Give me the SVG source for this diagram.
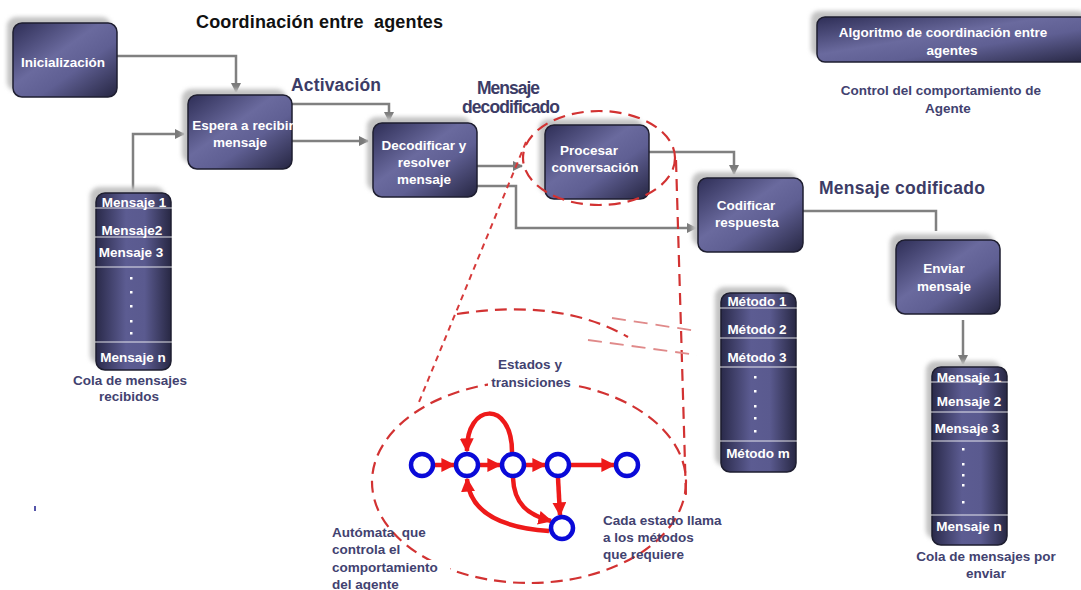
<svg xmlns="http://www.w3.org/2000/svg" width="1081" height="590" viewBox="0 0 1081 590">
<defs>
  <linearGradient id="boxFill" x1="0" y1="0" x2="1" y2="1">
    <stop offset="0" stop-color="#2e2e56"/>
    <stop offset="0.42" stop-color="#6a6a9e"/>
    <stop offset="0.62" stop-color="#5f5f93"/>
    <stop offset="1" stop-color="#262642"/>
  </linearGradient>
  <linearGradient id="listFill" x1="0" y1="0" x2="1" y2="0">
    <stop offset="0" stop-color="#2a2a4a"/>
    <stop offset="0.4" stop-color="#5c5c92"/>
    <stop offset="0.65" stop-color="#5a5a8f"/>
    <stop offset="1" stop-color="#282844"/>
  </linearGradient>
  <filter id="soft" x="-20%" y="-20%" width="140%" height="140%">
    <feGaussianBlur stdDeviation="2"/>
  </filter>
  <marker id="grayArrow" viewBox="0 0 10 10" refX="9" refY="5" markerWidth="11" markerHeight="10" markerUnits="userSpaceOnUse" orient="auto">
    <path d="M0,0 L10,5 L0,10 z" fill="#7a7a7a"/>
  </marker>
  <marker id="redArrow" viewBox="0 0 10 10" refX="9" refY="5" markerWidth="14" markerHeight="14" markerUnits="userSpaceOnUse" orient="auto">
    <path d="M0,0 L10,5 L0,10 z" fill="#ee1a1a"/>
  </marker>
</defs>
<style>
  .shadow { fill: #c2c2c2; filter: url(#soft); }
  .box { fill: url(#boxFill); stroke: #1e1e30; stroke-width: 1.5; }
  .list { fill: url(#listFill); stroke: #1e1e30; stroke-width: 1.5; }
  .sep { stroke: #ffffff; stroke-width: 1; opacity: 0.85; }
  .bt { font-family: "Liberation Sans", Arial, sans-serif; font-weight: bold; font-size: 13.5px; fill: #ffffff; text-anchor: middle; }
  .lt { font-family: "Liberation Sans", Arial, sans-serif; font-weight: bold; font-size: 13.5px; fill: #ffffff; text-anchor: middle; }
  .title { font-family: "Liberation Sans", Arial, sans-serif; font-weight: bold; font-size: 18px; fill: #111111; white-space: pre; }
  .big { font-family: "Liberation Sans", Arial, sans-serif; font-weight: bold; font-size: 17.5px; fill: #3c3c66; }
  .lbl { font-family: "Liberation Sans", Arial, sans-serif; font-weight: bold; font-size: 13.5px; fill: #424270; white-space: pre; }
  .conn { fill: none; stroke: #808080; stroke-width: 2.5; }
  .leader { fill: none; stroke: #d63a3a; stroke-width: 2; stroke-dasharray: 6 5; }
  .zone { fill: none; stroke: #d23232; stroke-width: 2.2; stroke-dasharray: 12 7; }
  .faint { fill: none; stroke: #e08a8a; stroke-width: 1.8; stroke-dasharray: 14 8; }
  .state { fill: #ffffff; stroke: #0a0ad8; stroke-width: 4.5; }
  .tr { fill: none; stroke: #ee1a1a; stroke-width: 4.5; marker-end: url(#redArrow); }
</style>

<rect width="1081" height="590" fill="#ffffff"/>

<!-- headings and free labels -->
<text class="title" x="196" y="28" textLength="247">Coordinación entre  agentes</text>
<text class="big" x="291" y="91" textLength="90">Activación</text>
<text class="big" x="477" y="94" font-size="16.5" fill="#4a4a68" textLength="63">Mensaje</text>
<text class="big" x="462" y="113" font-size="16.5" fill="#4a4a68" textLength="98">decodificado</text>
<text class="big" x="819" y="194" textLength="166">Mensaje codificado</text>
<text class="lbl" x="941" y="95" text-anchor="middle" fill="#4a4a68">Control del comportamiento de</text>
<text class="lbl" x="948" y="113" text-anchor="middle" fill="#4a4a68">Agente</text>
<rect x="34" y="506" width="2" height="5" fill="#5555aa"/>

<!-- connectors -->
<g id="connectors">
  <path class="conn" d="M117,56 H236 V92" marker-end="url(#grayArrow)"/>
  <path class="conn" d="M133,193 V134 H184" marker-end="url(#grayArrow)"/>
  <path class="conn" d="M292,104 H389 V121" marker-end="url(#grayArrow)"/>
  <path class="conn" d="M292,141 H368" marker-end="url(#grayArrow)"/>
  <path class="conn" d="M477,166 H522" marker-end="url(#grayArrow)"/>
  <path class="conn" d="M477,186 H516 V228 H696" marker-end="url(#grayArrow)"/>
  <path class="conn" d="M649,152 H734 V174" marker-end="url(#grayArrow)"/>
  <path class="conn" d="M803,211 H936 V231"/>
  <path class="conn" d="M963,320 V364" marker-end="url(#grayArrow)"/>
</g>

<!-- nodes -->
<g id="n-inicializacion">
  <rect class="shadow" x="7" y="17" width="104" height="74" rx="9"/>
  <rect class="box" x="13" y="23" width="104" height="74" rx="9"/>
  <text class="bt" x="63" y="67">Inicialización</text>
</g>
<g id="n-espera">
  <rect class="shadow" x="182" y="89" width="104" height="74" rx="9"/>
  <rect class="box" x="188" y="95" width="104" height="74" rx="9"/>
  <text class="bt" x="243" y="130">Espera a recibir</text>
  <text class="bt" x="240" y="147">mensaje</text>
</g>
<g id="n-decodificar">
  <rect class="shadow" x="367" y="117" width="104" height="74" rx="9"/>
  <rect class="box" x="373" y="123" width="104" height="74" rx="9"/>
  <text class="bt" x="424" y="150">Decodificar y</text>
  <text class="bt" x="424" y="167">resolver</text>
  <text class="bt" x="424" y="184">mensaje</text>
</g>
<g id="n-procesar">
  <rect class="shadow" x="539" y="119" width="104" height="74" rx="9"/>
  <rect class="box" x="545" y="125" width="104" height="74" rx="9"/>
  <text class="bt" x="589" y="155">Procesar</text>
  <text class="bt" x="595" y="172">conversación</text>
</g>
<g id="n-codificar">
  <rect class="shadow" x="692" y="172" width="105" height="74" rx="9"/>
  <rect class="box" x="698" y="178" width="105" height="74" rx="9"/>
  <text class="bt" x="746" y="210">Codificar</text>
  <text class="bt" x="747" y="227">respuesta</text>
</g>
<g id="n-enviar">
  <rect class="shadow" x="890" y="234" width="104" height="74" rx="9"/>
  <rect class="box" x="896" y="240" width="104" height="74" rx="9"/>
  <text class="bt" x="944" y="273">Enviar</text>
  <text class="bt" x="944" y="291">mensaje</text>
</g>
<g id="n-algoritmo">
  <rect class="shadow" x="811" y="11" width="275" height="45" rx="8"/>
  <rect class="box" x="817" y="17" width="275" height="45" rx="8"/>
  <text class="bt" x="943" y="37" font-size="14">Algoritmo de coordinación entre</text>
  <text class="bt" x="952" y="55" font-size="14">agentes</text>
</g>

<!-- incoming message queue -->
<g id="n-cola-recibidos">
  <rect class="shadow" x="90" y="187" width="75" height="177" rx="9"/>
  <rect class="list" x="96" y="193" width="75" height="177" rx="9"/>
  <line class="sep" x1="95" y1="208" x2="172" y2="208"/>
  <line class="sep" x1="95" y1="237" x2="172" y2="237"/>
  <line class="sep" x1="95" y1="267" x2="172" y2="267"/>
  <line class="sep" x1="95" y1="342" x2="172" y2="342"/>
  <text class="lt" x="134" y="207">Mensaje 1</text>
  <text class="lt" x="132" y="235">Mensaje2</text>
  <text class="lt" x="131" y="257">Mensaje 3</text>
  <g fill="#ffffff">
    <rect x="130" y="277" width="2.5" height="2.5"/>
    <rect x="130" y="291" width="2.5" height="2.5"/>
    <rect x="130" y="305" width="2.5" height="2.5"/>
    <rect x="130" y="320" width="2.5" height="2.5"/>
    <rect x="130" y="332" width="2.5" height="2.5"/>
  </g>
  <text class="lt" x="133" y="362">Mensaje n</text>
  <text class="lbl" x="130" y="385" text-anchor="middle" fill="#55558c">Cola de mensajes</text>
  <text class="lbl" x="129" y="401" text-anchor="middle" fill="#55558c">recibidos</text>
</g>

<!-- method list -->
<g id="n-metodos">
  <rect class="shadow" x="715" y="287" width="75" height="179" rx="9"/>
  <rect class="list" x="721" y="293" width="75" height="179" rx="9"/>
  <line class="sep" x1="720" y1="308" x2="797" y2="308"/>
  <line class="sep" x1="720" y1="338" x2="797" y2="338"/>
  <line class="sep" x1="720" y1="367" x2="797" y2="367"/>
  <line class="sep" x1="720" y1="441" x2="797" y2="441"/>
  <text class="lt" x="757" y="306">Método 1</text>
  <text class="lt" x="757" y="334">Método 2</text>
  <text class="lt" x="757" y="362">Método 3</text>
  <g fill="#ffffff">
    <rect x="754" y="376" width="2.5" height="2.5"/>
    <rect x="754" y="390" width="2.5" height="2.5"/>
    <rect x="754" y="405" width="2.5" height="2.5"/>
    <rect x="754" y="417" width="2.5" height="2.5"/>
    <rect x="754" y="430" width="2.5" height="2.5"/>
  </g>
  <text class="lt" x="758" y="458">Método m</text>
</g>

<!-- outgoing message queue -->
<g id="n-cola-enviar">
  <rect class="shadow" x="926" y="361" width="75" height="178" rx="9"/>
  <rect class="list" x="932" y="367" width="75" height="178" rx="9"/>
  <line class="sep" x1="931" y1="382" x2="1008" y2="382"/>
  <line class="sep" x1="931" y1="412" x2="1008" y2="412"/>
  <line class="sep" x1="931" y1="441" x2="1008" y2="441"/>
  <line class="sep" x1="931" y1="515" x2="1008" y2="515"/>
  <text class="lt" x="969" y="382">Mensaje 1</text>
  <text class="lt" x="969" y="406">Mensaje 2</text>
  <text class="lt" x="967" y="433">Mensaje 3</text>
  <g fill="#ffffff">
    <rect x="962" y="448" width="2.5" height="2.5"/>
    <rect x="962" y="463" width="2.5" height="2.5"/>
    <rect x="962" y="474" width="2.5" height="2.5"/>
    <rect x="962" y="484" width="2.5" height="2.5"/>
    <rect x="962" y="501" width="2.5" height="2.5"/>
  </g>
  <text class="lt" x="969" y="531">Mensaje n</text>
  <text class="lbl" x="986" y="561" text-anchor="middle" fill="#55558c">Cola de mensajes por</text>
  <text class="lbl" x="986" y="578" text-anchor="middle" fill="#55558c">enviar</text>
</g>

<!-- zoom callout from the conversation process to its automaton -->
<g id="callout">
  <ellipse class="zone" cx="599" cy="158" rx="76" ry="47"/>
  <path class="leader" d="M526,142 L419,402"/>
  <path class="zone" d="M676,160 L686,497" stroke-dasharray="11 6"/>
  <path class="zone" d="M457,314 Q560,298 628,337" stroke-width="2.5"/>
  <path class="faint" d="M612,318 L697,331"/>
  <path class="faint" d="M588,340 L697,355"/>
  <ellipse class="zone" cx="529" cy="482" rx="157" ry="101"/>
</g>

<!-- automaton: states and transitions -->
<g id="automaton">
  <path class="tr" d="M435,465 L454,465"/>
  <path class="tr" d="M480,465 L500,465"/>
  <path class="tr" d="M526,465 L545,465"/>
  <path class="tr" d="M571,465 L614,465"/>
  <path class="tr" d="M558,478 L560,515"/>
  <path class="tr" d="M513,478 C514,504 528,515 551,521"/>
  <path class="tr" d="M512,452 C512,400 466,402 467,451"/>
  <path class="tr" d="M549,531 C505,528 470,515 467,479"/>
  <circle class="state" cx="422" cy="465" r="11"/>
  <circle class="state" cx="467" cy="465" r="11"/>
  <circle class="state" cx="513" cy="465" r="11"/>
  <circle class="state" cx="558" cy="465" r="11"/>
  <circle class="state" cx="627" cy="465" r="11"/>
  <circle class="state" cx="562" cy="528" r="11"/>
</g>

<!-- automaton annotations -->
<g id="automaton-labels">
  <rect x="488" y="375" width="90" height="15" fill="#ffffff"/>
  <text class="lbl" x="530" y="369" text-anchor="middle">Estados y</text>
  <text class="lbl" x="531" y="387" text-anchor="middle">transiciones</text>
  <rect x="330" y="560" width="120" height="30" fill="#ffffff"/>
  <text class="lbl" x="332" y="537">Autómata  que</text>
  <text class="lbl" x="332" y="554">controla el</text>
  <text class="lbl" x="332" y="572">comportamiento</text>
  <text class="lbl" x="332" y="589">del agente</text>
  <text class="lbl" x="603" y="525">Cada estado llama</text>
  <text class="lbl" x="603" y="542">a los métodos</text>
  <text class="lbl" x="603" y="559">que requiere</text>
</g>
</svg>
